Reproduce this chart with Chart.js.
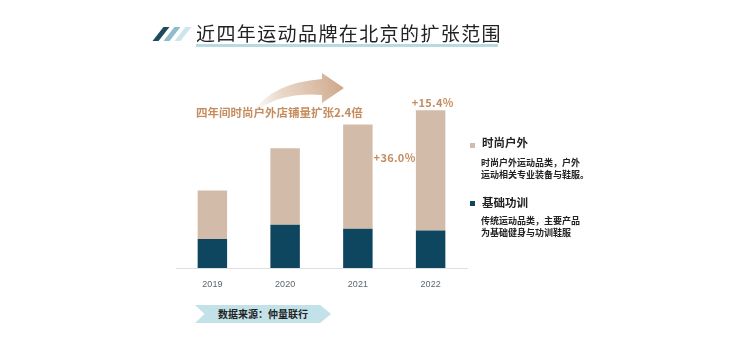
<!DOCTYPE html>
<html>
<head>
<meta charset="utf-8">
<script src="https://cdn.jsdelivr.net/npm/chart.js@4"></script>
<style>
  html, body { margin: 0; padding: 0; background: #fff; }
  body { width: 744px; height: 338px; position: relative; overflow: hidden;
         font-family: "Noto Sans CJK SC", "Noto Sans", sans-serif; }
  #chart { position: absolute; left: 0; top: 0; }
  .title { position: absolute; left: 196px; top: 20px; font-size: 19px; color: #222;
           letter-spacing: 1.4px; line-height: 26px; white-space: nowrap; }
  .title-line { position: absolute; left: 196px; top: 44px; width: 302px; height: 3px; background: #b9dae2; }
  .stripe { position: absolute; top: 27px; width: 6px; height: 14px; transform: skewX(-38deg); }
  .legend { position: absolute; left: 470px; color: #222; white-space: nowrap; }
  .legend .sw { position: absolute; left: 0; width: 5px; height: 5px; }
  .legend .name { position: absolute; left: 12px; font-size: 11.5px; font-weight: 700; line-height: 14px; }
  .legend .desc { position: absolute; left: 11px; font-size: 9px; font-weight: 700; line-height: 12px; }
  .source { position: absolute; left: 195px; top: 305px; width: 136px; height: 18px; background: #c2e1e9;
            clip-path: polygon(0 0, 92% 0, 100% 50%, 92% 100%, 0 100%, 7% 50%); }
  .source span { position: absolute; left: 0; right: 0; top: 0; text-align: center; font-size: 10px;
                 font-weight: 700; color: #222; line-height: 18px; }
</style>
</head>
<body>
<canvas id="chart" width="744" height="338"></canvas>

<div class="stripe" style="left:158px; background:#1d4a5d;"></div>
<div class="stripe" style="left:169px; background:#8fbccb;"></div>
<div class="stripe" style="left:180px; background:#cfe5eb;"></div>
<div class="title">近四年运动品牌在北京的扩张范围</div>
<div class="title-line"></div>

<div class="legend" style="top:134px;">
  <div class="sw" style="top:9px; background:#d3bba9;"></div>
  <div class="name" style="top:1px;">时尚户外</div>
  <div class="desc" style="top:23px;">时尚户外运动品类，户外<br>运动相关专业装备与鞋服。</div>
</div>
<div class="legend" style="top:195px;">
  <div class="sw" style="top:6px; background:#0e4660;"></div>
  <div class="name" style="top:0px;">基础功训</div>
  <div class="desc" style="top:20px;">传统运动品类，主要产品<br>为基础健身与功训鞋服</div>
</div>

<div class="source"><span>数据来源：仲量联行</span></div>

<script>
// store counts by year (bottom: basic training, top: fashion outdoor)
const years = ['2019', '2020', '2021', '2022'];
const basicTraining = [29.3, 43.7, 39.7, 37.9];
const fashionOutdoor = [49, 77.5, 105.4, 121.6];
const growthNote = '四年间时尚户外店铺量扩张2.4倍';

const BEIGE = '#d3bba9';
const NAVY = '#0e4660';
const TAN = '#c58d5f';

// growth labels and curved arrow drawn on top of the bars
const annotations = {
    id: 'annotations',
    afterDatasetsDraw(chart) {
        const ctx = chart.ctx;
        const meta = chart.getDatasetMeta(1);

        // curved arrow above the early bars
        ctx.save();
        const grad = ctx.createLinearGradient(252, 110, 340, 84);
        grad.addColorStop(0, 'rgba(215,185,160,0)');
        grad.addColorStop(0.35, 'rgba(215,185,160,0.55)');
        grad.addColorStop(1, 'rgba(208,170,140,1)');
        ctx.fillStyle = grad;
        ctx.beginPath();
        ctx.moveTo(253, 112);
        ctx.quadraticCurveTo(272, 83, 322, 79);
        ctx.lineTo(322, 73);
        ctx.lineTo(344, 88);
        ctx.lineTo(322, 103);
        ctx.lineTo(322, 95);
        ctx.quadraticCurveTo(280, 92, 255, 112);
        ctx.closePath();
        ctx.fill();
        ctx.restore();

        ctx.save();
        ctx.fillStyle = TAN;
        ctx.font = 'bold 11.5px "Noto Sans CJK SC", sans-serif';
        ctx.textBaseline = 'middle';
        ctx.textAlign = 'left';
        ctx.fillText(growthNote, 196, 113);

        // year-on-year change of the fashion outdoor segment
        ctx.font = 'bold 11px "Noto Sans CJK SC", sans-serif';
        ctx.letterSpacing = '0.3px';
        const pct = i => '+' + ((fashionOutdoor[i] / fashionOutdoor[i - 1] - 1) * 100).toFixed(1) + '%';
        const b21 = meta.data[2];
        ctx.textAlign = 'left';
        ctx.fillText(pct(2), b21.x + b21.width / 2 + 1, b21.y + 33);
        const b22 = meta.data[3];
        ctx.textAlign = 'center';
        ctx.fillText(pct(3), b22.x + 2, b22.y - 7);
        ctx.restore();
    }
};

new Chart(document.getElementById('chart'), {
    type: 'bar',
    data: {
        labels: years,
        datasets: [
            { label: '基础功训', data: basicTraining, backgroundColor: NAVY },
            { label: '时尚户外', data: fashionOutdoor, backgroundColor: BEIGE }
        ]
    },
    options: {
        responsive: false,
        animation: false,
        events: [],
        layout: { padding: { left: 176, right: 277, top: 90, bottom: 50 } },
        datasets: { bar: { categoryPercentage: 1, barPercentage: 0.405 } },
        scales: {
            x: {
                stacked: true,
                grid: { display: false },
                border: { display: true, color: '#dde2e5', width: 1 },
                ticks: { color: '#5b6670', font: { family: 'Liberation Sans, sans-serif', size: 9 }, padding: 3 },
                afterFit: scale => { scale.height = 20; }
            },
            y: { stacked: true, display: false, min: 0, max: 180 }
        },
        plugins: {
            legend: { display: false },
            tooltip: { enabled: false }
        }
    },
    plugins: [annotations]
});
</script>
</body>
</html>
